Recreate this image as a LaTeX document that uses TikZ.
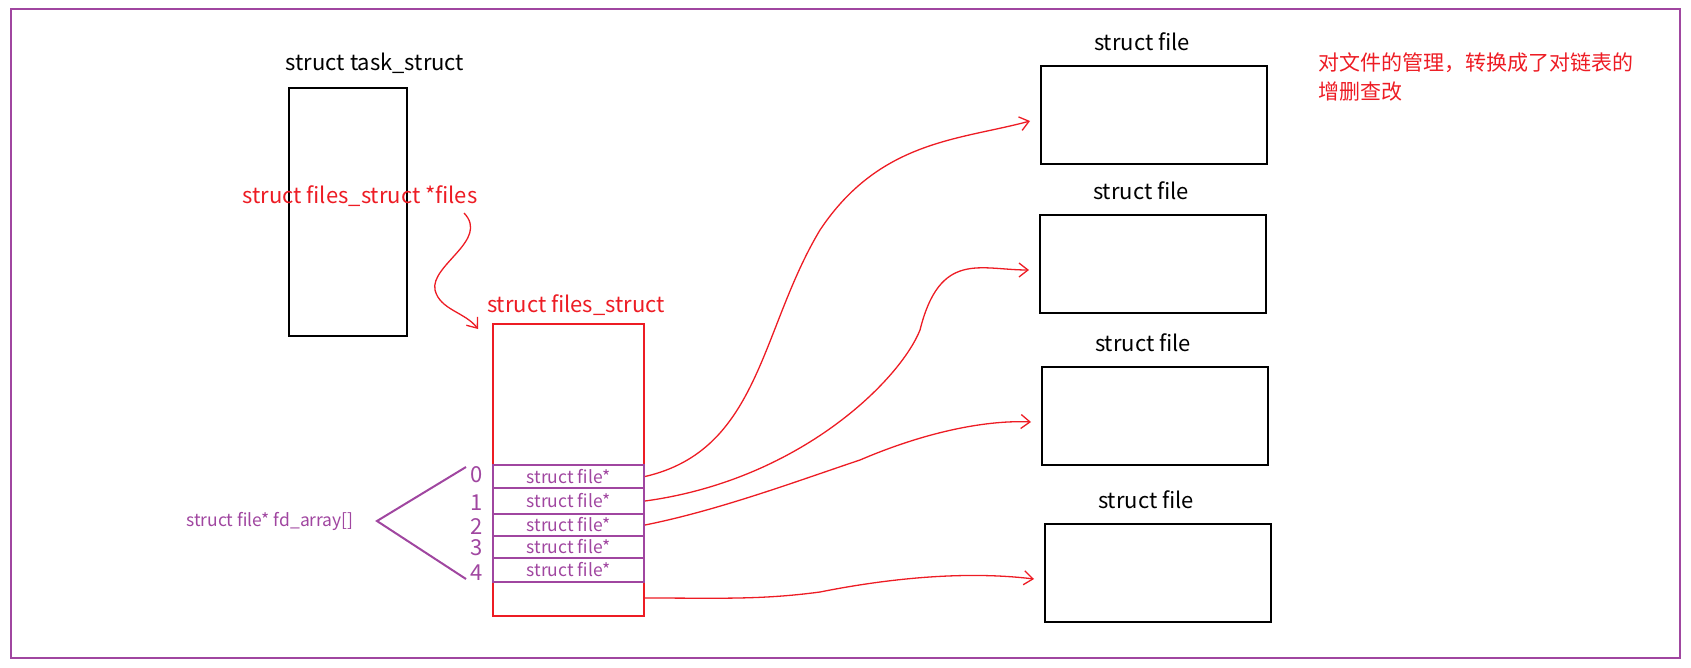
\documentclass[tikz,border=0pt]{standalone}
\usepackage{fontspec}
\setmainfont{Noto Sans CJK SC}
\usetikzlibrary{positioning,arrows.meta}
\definecolor{frame}{RGB}{160,70,160}
\definecolor{hand}{RGB}{237,28,36}
\tikzset{
    box/.style={draw=black, line width=2pt},
    redbox/.style={draw=hand, line width=2.5pt},
    slot/.style={draw=frame, line width=2pt, minimum width=151pt, minimum height=22pt, inner sep=0pt, font=\fontsize{17.5}{19}\selectfont, text=frame},
    title/.style={font=\fontsize{22}{26}\selectfont},
    link/.style={draw=hand, line width=1.3pt, -{Straight Barb[length=9pt,width=14pt,line width=1.3pt]}},
}
\begin{document}
\begin{tikzpicture}[x=1pt, y=-1pt]
\useasboundingbox (0,0) rectangle (1691,667);
\draw[frame, line width=2pt] (11,9) rectangle (1680,658);

% task_struct
\draw[box] (289,88) rectangle (407,336);
\node[title] (tasklabel) at (375,63) {struct task\_struct};
\node[title, text=hand] (fileslabel) at (360,196) {struct files\_struct *files};
\coordinate (pstart) at (464,213);
\coordinate (pend) at (478,329);
\draw[link] (pstart) .. controls (490,240) and (430,265) .. (435,290) .. controls (440,310) and (465,312) .. (pend);

% files_struct
\draw[redbox] (493,324) rectangle (644,616);
\node[title, text=hand] (fstructlabel) at (576,305) {struct files\_struct};
\node[slot, minimum height=23pt] (s0) at (568.5,476.5) {struct file*};
\node[slot, minimum height=26pt] (s1) at (568.5,501) {struct file*};
\node[slot, minimum height=22pt] (s2) at (568.5,525) {struct file*};
\node[slot, minimum height=22pt] (s3) at (568.5,547) {struct file*};
\node[slot, minimum height=24pt] (s4) at (568.5,570) {struct file*};
\coordinate (s5) at (644,598);
\foreach \i/\y in {0/475,1/503,2/527,3/548,4/573}
    \node[title, text=frame] (idx\i) at (477,\y) {\i};

% fd_array
\node[font=\fontsize{17.5}{19}\selectfont, text=frame] (fdlabel) at (270,521) {struct file* fd\_array[]};
\coordinate (fork) at (377,521);
\coordinate (forkup) at (466,467);
\coordinate (forkdown) at (466,579);
\draw[frame, line width=2pt] (forkup) -- (fork) -- (forkdown);

% struct file boxes
\foreach \n/\x/\y in {a/1041/66, b/1040/215, c/1042/367, d/1045/524} {
    \draw[box] (\x,\y) rectangle ++(226,98);
    \node[title] (lab\n) at (\x+101,\y-24) {struct file};
    \coordinate (in\n) at (\x-11,\y+55);
}

\node[font=\fontsize{21}{25}\selectfont, text=hand, anchor=north west, align=left] (note) at (1315,49) {对文件的管理，转换成了对链表的\\[4pt]增删查改};

% pointers
\draw[link] (s0.east) .. controls (760,450) and (760,330) .. (820,230) .. controls (880,140) and (960,140) .. (ina);
\draw[link] (s1.east) .. controls (800,480) and (900,380) .. (920,330) .. controls (940,250) and (980,270) .. (inb);
\draw[link] (s2.east) .. controls (720,510) and (800,480) .. (860,460) .. controls (930,430) and (990,420) .. (inc);
\draw[link] (s5) .. controls (720,598) and (760,600) .. (820,592) .. controls (880,580) and (960,570) .. (ind);
\end{tikzpicture}
\end{document}
